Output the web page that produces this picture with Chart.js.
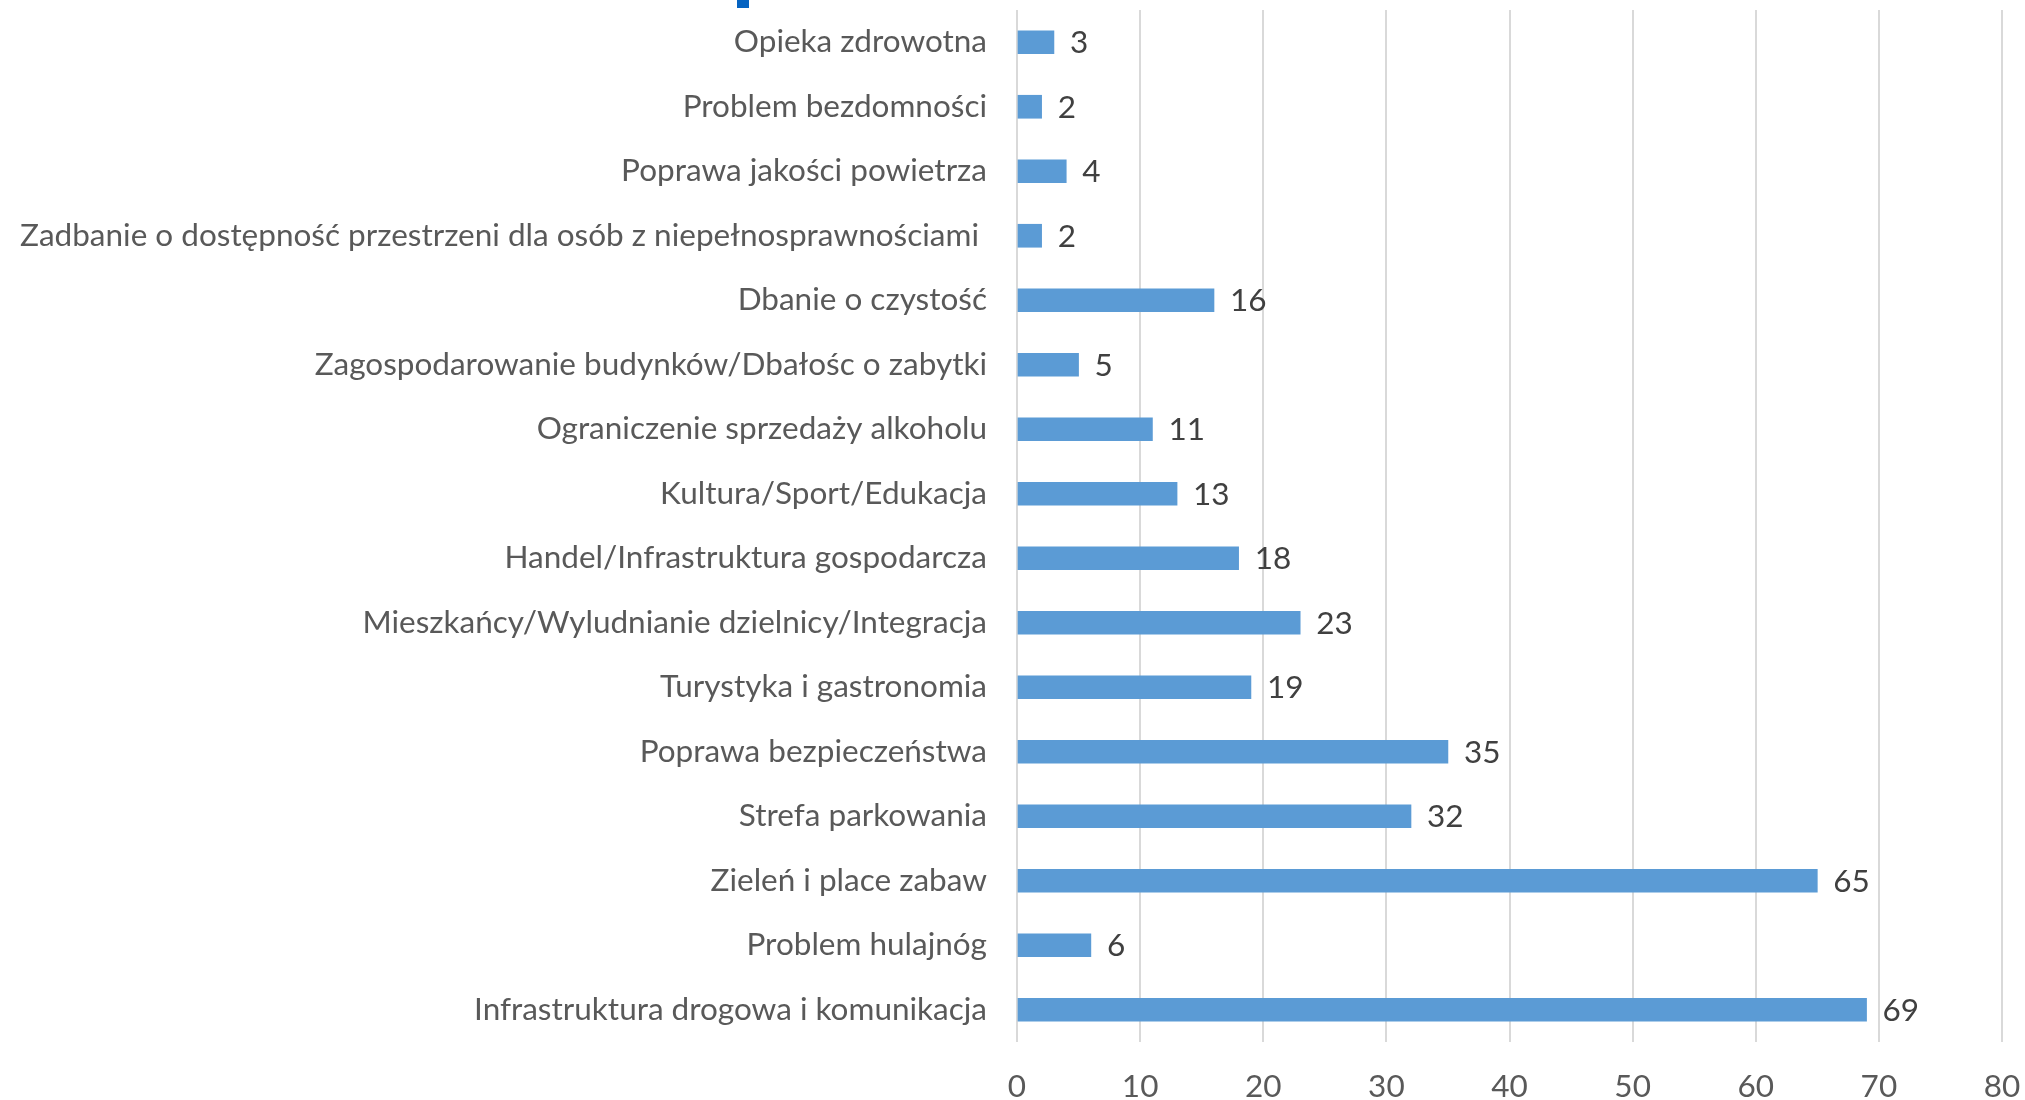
<!DOCTYPE html>
<html lang="pl">
<head>
    <meta charset="UTF-8">
    <title>Problemy dzielnicy</title>
    <script src="https://cdn.jsdelivr.net/npm/chart.js"></script>
    <style>
        body { margin: 0; background: #ffffff; }
        canvas { display: block; }
    </style>
</head>
<body>
    <canvas id="Chart" width="2025" height="1100"></canvas>
    <script>
        // kolejnosc od gory do dolu
        const categories = [
            'Opieka zdrowotna',
            'Problem bezdomności',
            'Poprawa jakości powietrza',
            'Zadbanie o dostępność przestrzeni dla osób z niepełnosprawnościami ',
            'Dbanie o czystość',
            'Zagospodarowanie budynków/Dbałośc o zabytki',
            'Ograniczenie sprzedaży alkoholu',
            'Kultura/Sport/Edukacja',
            'Handel/Infrastruktura gospodarcza',
            'Mieszkańcy/Wyludnianie dzielnicy/Integracja',
            'Turystyka i gastronomia',
            'Poprawa bezpieczeństwa',
            'Strefa parkowania',
            'Zieleń i place zabaw',
            'Problem hulajnóg',
            'Infrastruktura drogowa i komunikacja'
        ];
        const counts = [3, 2, 4, 2, 16, 5, 11, 13, 18, 23, 19, 35, 32, 65, 6, 69];
        const xTicks = [0, 10, 20, 30, 40, 50, 60, 70, 80];

        const FONT = 'Lato, "Open Sans", sans-serif';
        const FSIZE = 31.5;

        const valueLabels = {
            id: 'valueLabels',
            afterDatasetsDraw(chart) {
                const ctx = chart.ctx;
                const meta = chart.getDatasetMeta(0);
                ctx.save();
                ctx.font = FSIZE + 'px ' + FONT;
                ctx.fillStyle = '#404040';
                ctx.textAlign = 'left';
                ctx.textBaseline = 'middle';
                meta.data.forEach((bar, i) => {
                    ctx.fillText(String(counts[i]), bar.x + 16, bar.y + 1);
                });
                ctx.restore();
            }
        };

        // kawalek obcietego elementu u gory
        const topMark = {
            id: 'topMark',
            afterDraw(chart) {
                const ctx = chart.ctx;
                ctx.save();
                ctx.fillStyle = '#0563C1';
                ctx.fillRect(737, 0, 12, 8);
                ctx.restore();
            }
        };

        const ctx = document.getElementById('Chart').getContext('2d');
        new Chart(ctx, {
            type: 'bar',
            data: {
                labels: categories,
                datasets: [{
                    data: counts,
                    backgroundColor: '#5B9BD5',
                    barThickness: 23
                }]
            },
            plugins: [valueLabels, topMark],
            options: {
                indexAxis: 'y',
                responsive: false,
                animation: false,
                layout: { padding: 0 },
                scales: {
                    x: {
                        min: 0,
                        max: 80,
                        afterBuildTicks(scale) {
                            scale.ticks = xTicks.map(v => ({ value: v }));
                        },
                        afterFit(scale) {
                            scale.height = 58;
                            scale.paddingRight = 23;
                            scale.paddingLeft = 0;
                        },
                        border: { display: false },
                        grid: { color: '#D9D9D9', lineWidth: 2, drawTicks: false },
                        ticks: {
                            padding: 26,
                            color: '#595959',
                            font: { family: FONT, size: FSIZE }
                        }
                    },
                    y: {
                        afterFit(scale) {
                            scale.width = 1017;
                            scale.paddingTop = 10;
                            scale.paddingBottom = 0;
                        },
                        border: { display: false },
                        grid: { display: false, drawTicks: false },
                        ticks: {
                            padding: 30,
                            color: '#595959',
                            autoSkip: false,
                            font: { family: FONT, size: FSIZE }
                        }
                    }
                },
                plugins: {
                    legend: { display: false },
                    tooltip: { enabled: false }
                }
            }
        });
    </script>
</body>
</html>
